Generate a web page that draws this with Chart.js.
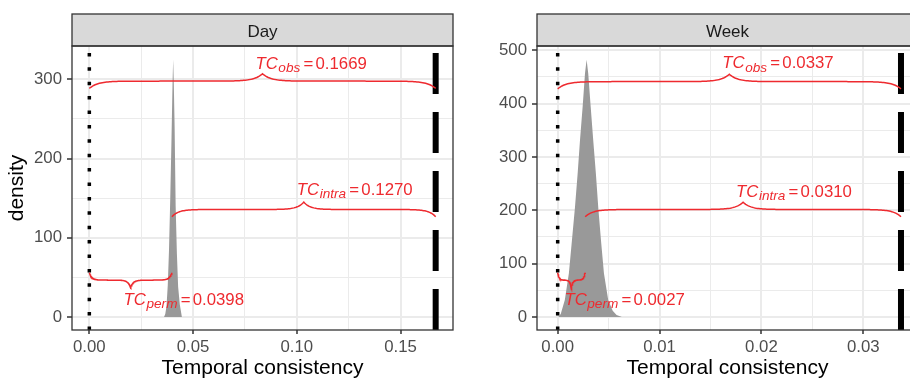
<!DOCTYPE html>
<html><head><meta charset="utf-8">
<script src="https://cdn.jsdelivr.net/npm/chart.js@4.4.1/dist/chart.umd.min.js"></script>
<style>
html,body{margin:0;padding:0;background:#fff;width:910px;height:380px;overflow:hidden;}
canvas{position:absolute;top:0;}
#c1{left:0;} #c2{left:460px;}
</style></head><body>
<canvas id="c1" width="460" height="380"></canvas>
<canvas id="c2" width="460" height="380"></canvas>
<script>
// ---------------- data ----------------
const panelNames = ["Day", "Week"];
const xTitle = "Temporal consistency";
const yTitle = "density";
const tcNames = ["obs", "intra", "perm"];

// TC values: obs, intra, perm
const dayTC  = [0.1669, 0.1270, 0.0398];
const weekTC = [0.0337, 0.0310, 0.0027];

// permutation density (Day)
const dayDensityX = [0.0360, 0.0366, 0.0372, 0.0378, 0.0384, 0.0390, 0.0396, 0.0401, 0.0404, 0.0407, 0.0411, 0.0416, 0.0422, 0.0428, 0.0436, 0.0446];
const dayDensityY = [0, 4, 14, 40, 85, 150, 225, 295, 325, 295, 240, 140, 80, 38, 16, 0];

// permutation density (Week)
const weekDensityX = [0.00005, 0.0003, 0.0007, 0.0011, 0.0014, 0.0017, 0.00196, 0.00219, 0.00245, 0.00268, 0.00284, 0.0030, 0.00324, 0.00349, 0.00375, 0.00398, 0.00425, 0.00454, 0.00496, 0.0054, 0.00578, 0.0063];
const weekDensityY = [0, 6, 32, 82, 144, 206, 269, 331, 394, 456, 482, 456, 394, 331, 269, 206, 144, 82, 32, 12, 4, 0];

// brace levels (obs, intra, perm) and label baselines, in density units
const dayBraceLevels  = [297.6, 135.7, 46.6];
const weekBraceLevels = [441.0, 201.5, 69.3];
const dayLabelY  = [313.4, 153.8, 15.1];
const weekLabelY = [465.7, 225.3, 22.5];

// axis ranges
const dayXRange  = [-0.00835, 0.17525];
const dayYRange  = [-16.3, 341.9];
const weekXRange = [-0.00203, 0.03537];
const weekYRange = [-24.2, 507.7];

// ticks
const dayXTicks = [0, 0.05, 0.10, 0.15];
const dayXTickLabels = ["0.00", "0.05", "0.10", "0.15"];
const dayXMinor = [0.025, 0.075, 0.125];
const dayYTicks = [0, 100, 200, 300];
const dayYTickLabels = ["0", "100", "200", "300"];
const dayYMinor = [50, 150, 250];

const weekXTicks = [0, 0.01, 0.02, 0.03];
const weekXTickLabels = ["0.00", "0.01", "0.02", "0.03"];
const weekXMinor = [0.005, 0.015, 0.025, 0.035];
const weekYTicks = [0, 100, 200, 300, 400, 500];
const weekYTickLabels = ["0", "100", "200", "300", "400", "500"];
const weekYMinor = [50, 150, 250, 350, 450];

// ---------------- style ----------------
const FONT = '"Liberation Sans", Arial, sans-serif';
const RED = '#EE2A2F';
const PANEL_W = 381, PANEL_H = 284;

function zipXY(xs, ys) { return xs.map((x, i) => ({ x: x, y: ys[i] })); }

// curly brace between x0 and x1 at level; dir=+1 tip up, -1 tip down
function bracePoints(x0, x1, level, dir, xr, yr) {
  const wPx = (x1 - x0) / (xr[1] - xr[0]) * PANEL_W;
  const hPx = 7.3;
  const L = 0.065 * wPx + 2.5;
  const tau = L / 3;
  const n = 240;
  const yPerPx = (yr[1] - yr[0]) / PANEL_H;
  const pts = [];
  for (let i = 0; i <= n; i++) {
    const s = i / n * wPx;
    const a = Math.min(s, wPx - s);
    const c = Math.abs(wPx / 2 - s);
    const d = -hPx * Math.exp(-a / tau) + hPx * Math.exp(-c / tau);
    pts.push({ x: x0 + (s / wPx) * (x1 - x0), y: level + dir * d * yPerPx });
  }
  return pts;
}

const panelDecor = {
  id: 'panelDecor',
  afterDraw(chart, args, o) {
    const ctx = chart.ctx, a = chart.chartArea;
    ctx.save();
    ctx.fillStyle = '#D9D9D9';
    ctx.fillRect(a.left, 14, a.right - a.left, a.top - 14);
    ctx.strokeStyle = '#333333';
    ctx.lineWidth = 1.3;
    ctx.strokeRect(a.left, 14, a.right - a.left, a.top - 14);
    ctx.fillStyle = '#1A1A1A';
    ctx.font = '17px ' + FONT;
    ctx.textAlign = 'center';
    ctx.textBaseline = 'alphabetic';
    ctx.fillText(o.title, (a.left + a.right) / 2, 36.5);
    ctx.strokeRect(a.left, a.top, a.right - a.left, a.bottom - a.top);
    ctx.restore();
  }
};

const tcLabels = {
  id: 'tcLabels',
  afterDatasetsDraw(chart, args, o) {
    const ctx = chart.ctx, xs = chart.scales.x, ys = chart.scales.y;
    o.items.forEach(it => {
      let px = xs.getPixelForValue(it.x) - 7;
      const py = ys.getPixelForValue(it.y);
      ctx.save();
      ctx.fillStyle = RED;
      ctx.textAlign = 'left';
      ctx.textBaseline = 'alphabetic';
      ctx.font = 'italic 16.8px ' + FONT;
      ctx.fillText('TC', px, py);
      px += ctx.measureText('TC').width + 0.5;
      ctx.font = 'italic 13.6px ' + FONT;
      ctx.fillText(it.sub, px, py + 3.2);
      px += ctx.measureText(it.sub).width + 3.2;
      ctx.font = '16.8px ' + FONT;
      ctx.fillText('=', px, py);
      px += ctx.measureText('=').width + 2.2;
      ctx.fillText(it.text, px, py);
      ctx.restore();
    });
  }
};

function makeScale(isX, range, major, minor, labels, title, axisSize) {
  const isMajor = v => major.indexOf(v) >= 0;
  return {
    type: 'linear',
    position: isX ? 'bottom' : 'left',
    min: range[0], max: range[1],
    afterBuildTicks: s => {
      s.ticks = major.concat(minor).slice().sort((a, b) => a - b).map(v => ({ value: v }));
    },
    afterFit: s => { if (isX) s.height = axisSize; else s.width = axisSize; },
    border: { display: false },
    ticks: {
      autoSkip: false, maxRotation: 0, minRotation: 0,
      padding: isX ? 3 : 5,
      color: '#4D4D4D',
      font: { family: FONT, size: 16.8 },
      callback: v => { const i = major.indexOf(v); return i >= 0 ? labels[i] : ''; }
    },
    grid: {
      color: '#EBEBEB',
      lineWidth: ctx => (ctx.tick && isMajor(ctx.tick.value)) ? 2 : 1,
      tickLength: isX ? 4 : 5,
      tickColor: ctx => (ctx.tick && isMajor(ctx.tick.value)) ? '#333333' : 'rgba(0,0,0,0)',
      tickWidth: ctx => (ctx.tick && isMajor(ctx.tick.value)) ? 1.5 : 0
    },
    title: {
      display: !!title,
      text: title || '',
      color: '#000000',
      font: { family: FONT, size: 21, lineHeight: 1.1 },
      padding: isX ? { top: 0, bottom: 0 } : { top: 5.6, bottom: 0 }
    }
  };
}

function makePanel(canvasId, name, tc, dx, dy, levels, labelY, xr, yr, xt, xtl, xm, yt, ytl, ym, yAxisW, padRight, showYTitle) {
  const obs = tc[0], perm = tc[2];
  const braceSpans = [[0, obs], [perm, obs], [0, perm]];
  const braceDirs = [1, 1, -1];
  const datasets = [];
  braceSpans.forEach((sp, i) => {
    datasets.push({
      data: bracePoints(sp[0], sp[1], levels[i], braceDirs[i], xr, yr),
      showLine: true, borderColor: RED, borderWidth: 1.5, pointRadius: 0, fill: false, order: 0
    });
  });
  datasets.push({
    data: [{ x: 0, y: yr[0] }, { x: 0, y: yr[1] }],
    showLine: true, borderColor: '#000', borderWidth: 3.5, borderDash: [3.5, 10.9],
    borderCapStyle: 'butt', pointRadius: 0, fill: false, order: 1
  });
  datasets.push({
    data: [{ x: obs, y: yr[0] }, { x: obs, y: yr[1] }],
    showLine: true, borderColor: '#000', borderWidth: 6, borderDash: [41, 18],
    borderCapStyle: 'butt', pointRadius: 0, fill: false, order: 1
  });
  datasets.push({
    data: zipXY(dx, dy),
    showLine: true, borderColor: 'rgba(0,0,0,0)', borderWidth: 0, backgroundColor: '#999999',
    pointRadius: 0, fill: 'origin', tension: 0, order: 2
  });
  const items = braceSpans.map((sp, i) => ({
    x: (sp[0] + sp[1]) / 2, y: labelY[i], sub: tcNames[i], text: tc[i].toFixed(4)
  }));
  new Chart(document.getElementById(canvasId), {
    type: 'scatter',
    data: { datasets: datasets },
    options: {
      responsive: false, animation: false, events: [],
      layout: { padding: { left: 0, right: padRight, top: 46, bottom: 0 } },
      scales: {
        x: makeScale(true, xr, xt, xm, xtl, xTitle, 50),
        y: makeScale(false, yr, yt, ym, ytl, showYTitle ? yTitle : null, yAxisW)
      },
      plugins: {
        legend: { display: false }, tooltip: { enabled: false },
        panelDecor: { title: name },
        tcLabels: { items: items }
      }
    },
    plugins: [panelDecor, tcLabels]
  });
}

makePanel('c1', panelNames[0], dayTC, dayDensityX, dayDensityY, dayBraceLevels, dayLabelY,
  dayXRange, dayYRange, dayXTicks, dayXTickLabels, dayXMinor, dayYTicks, dayYTickLabels, dayYMinor, 72, 7, true);
makePanel('c2', panelNames[1], weekTC, weekDensityX, weekDensityY, weekBraceLevels, weekLabelY,
  weekXRange, weekYRange, weekXTicks, weekXTickLabels, weekXMinor, weekYTicks, weekYTickLabels, weekYMinor, 77, 2, false);
</script>
</body></html>
